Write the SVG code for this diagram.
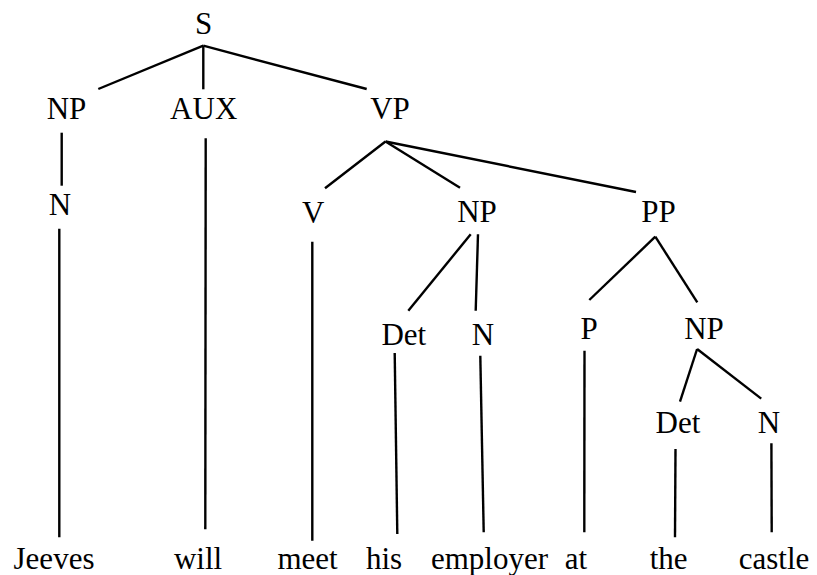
<svg xmlns="http://www.w3.org/2000/svg" width="817" height="575" viewBox="0 0 817 575">
<rect width="817" height="575" fill="#fff"/>
<g id="connectors" stroke="#000" stroke-width="2.4">
<line x1="203.3" y1="45.7" x2="98.3" y2="89"/>
<line x1="203.3" y1="45.7" x2="203.3" y2="89.3"/>
<line x1="203.3" y1="45.7" x2="366.7" y2="89"/>
<line x1="61.7" y1="132.7" x2="61.7" y2="185.7"/>
<line x1="59.3" y1="228.7" x2="59.3" y2="537.3"/>
<line x1="205.7" y1="138.3" x2="205.3" y2="529.3"/>
<line x1="385.5" y1="141.5" x2="325" y2="188.3"/>
<line x1="385.5" y1="141.5" x2="460" y2="187.7"/>
<line x1="385.5" y1="141.5" x2="636" y2="192"/>
<line x1="312.3" y1="241.7" x2="312.3" y2="540.7"/>
<line x1="470.7" y1="234.3" x2="408.3" y2="310.7"/>
<line x1="478" y1="234.3" x2="475.7" y2="310.7"/>
<line x1="655.3" y1="236.7" x2="589.3" y2="300"/>
<line x1="655.3" y1="236.7" x2="697.3" y2="302.3"/>
<line x1="394.7" y1="353.1" x2="397.3" y2="534"/>
<line x1="480.3" y1="355.8" x2="483.7" y2="532.3"/>
<line x1="584.5" y1="350.7" x2="584.3" y2="532.3"/>
<line x1="697.1" y1="349" x2="680" y2="401.7"/>
<line x1="697.1" y1="349" x2="761.2" y2="398.6"/>
<line x1="675.5" y1="449" x2="675" y2="537.3"/>
<line x1="771.4" y1="443.2" x2="771.7" y2="532.3"/>
</g>
<g font-family="'Liberation Serif', serif" font-size="31" fill="#000" text-anchor="middle">
<g id="S"><text x="203.5" y="34">S</text></g>
<g id="NP1"><text x="66.5" y="119">NP</text></g>
<g id="AUX"><text x="203.7" y="119">AUX</text></g>
<g id="VP"><text x="390" y="119">VP</text></g>
<g id="N1"><text x="60" y="215">N</text></g>
<g id="V"><text x="313.3" y="223">V</text></g>
<g id="NP2"><text x="477" y="222">NP</text></g>
<g id="PP"><text x="658.5" y="222">PP</text></g>
<g id="Det1"><text x="403.8" y="344.5">Det</text></g>
<g id="N2"><text x="483" y="344.5">N</text></g>
<g id="P"><text x="589" y="338.7">P</text></g>
<g id="NP3"><text x="704" y="339.4">NP</text></g>
<g id="Det2"><text x="678" y="433">Det</text></g>
<g id="N3"><text x="769" y="433">N</text></g>
<g id="w-Jeeves"><text x="54" y="569">Jeeves</text></g>
<g id="w-will"><text x="198" y="569">will</text></g>
<g id="w-meet"><text x="307.5" y="569">meet</text></g>
<g id="w-his"><text x="384" y="569">his</text></g>
<g id="w-employer"><text x="489.5" y="569">employer</text></g>
<g id="w-at"><text x="576" y="569">at</text></g>
<g id="w-the"><text x="668.7" y="569">the</text></g>
<g id="w-castle"><text x="774" y="569">castle</text></g>
</g>
</svg>
